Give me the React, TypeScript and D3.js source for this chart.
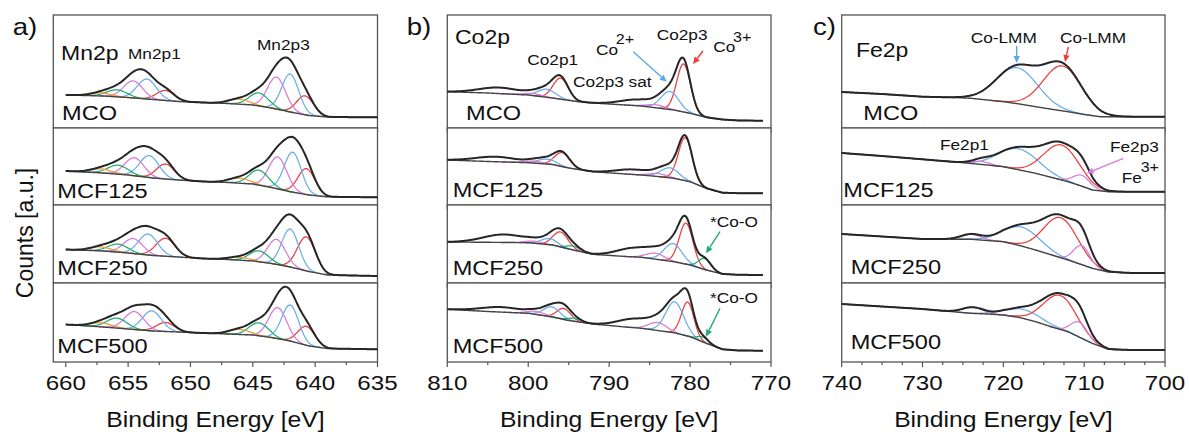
import React from "react";
import * as d3 from "d3";

// ---------------- data ----------------
const samples = ["MCO", "MCF125", "MCF250", "MCF500"];

const mnTicks = [660, 655, 650, 645, 640, 635];
const coTicks = [810, 800, 790, 780, 770];
const feTicks = [740, 730, 720, 710, 700];

// backgrounds: [binding energy, intensity]
const mnBg = [
  [[660, 33], [657, 32], [655, 30.5], [653, 28.5], [651, 26.5], [649, 25.5], [647, 24.5], [645, 23], [643.5, 20], [642, 16], [640.5, 12.5], [639, 11], [635, 10.7]],
  [[660, 34], [657, 32], [655, 30], [653, 27], [651, 25], [649, 23.5], [647, 22.5], [645, 21], [643.5, 17.5], [642, 13.3], [640.5, 10], [639, 8.2], [635, 7.7]],
  [[660, 33.5], [657, 32], [655, 30], [653, 27.5], [651, 26], [649, 24.5], [647, 23.5], [645, 22], [643.5, 19.5], [642, 16], [640.5, 11.5], [639, 8], [635, 7]],
  [[660, 37.5], [657, 35], [655, 33], [653, 31], [651, 30], [649, 29], [647, 28], [645, 27], [643.5, 24.5], [642, 21], [640.5, 16], [639, 13.5], [635, 12.7]],
];
// fitted components: [center eV, FWHM eV, amplitude, component]
const mnPeaks = [
  [[640.8, 1.6, 19, "a"], [642.0, 1.6, 38, "b"], [643.1, 1.7, 32, "c"], [644.5, 1.8, 13, "d"], [646.1, 2.0, 5, "e"], [652.0, 1.7, 10, "a"], [653.5, 1.8, 20, "b"], [654.6, 1.8, 17, "c"], [655.9, 1.9, 7, "d"], [657.2, 2.0, 3, "e"]],
  [[640.7, 1.6, 26, "a"], [641.8, 1.6, 40, "b"], [643.0, 1.7, 32, "c"], [644.5, 1.8, 15, "d"], [646.1, 2.0, 5, "e"], [652.0, 1.7, 15, "a"], [653.3, 1.8, 22, "b"], [654.5, 1.8, 18, "c"], [655.8, 1.9, 9, "d"], [657.2, 2.0, 4, "e"]],
  [[640.7, 1.7, 34, "a"], [642.0, 1.6, 38, "b"], [643.1, 1.7, 25, "c"], [644.5, 1.8, 11, "d"], [646.1, 2.0, 3, "e"], [652.0, 1.8, 18, "a"], [653.4, 1.8, 21, "b"], [654.6, 1.8, 15, "c"], [655.8, 1.9, 8, "d"], [657.2, 2.0, 4, "e"]],
  [[640.7, 1.6, 19, "a"], [642.0, 1.6, 36, "b"], [643.0, 1.7, 31, "c"], [644.5, 1.8, 13, "d"], [646.1, 2.0, 5, "e"], [652.0, 1.7, 9, "a"], [653.1, 1.8, 20, "b"], [654.5, 1.8, 18, "c"], [655.9, 1.9, 10, "d"], [657.2, 2.0, 4, "e"]],
];
const mnSat = [[], [], [], []];

const coBg = [
  [[810, 36.3], [805, 35], [800, 33], [797, 30], [794, 26.5], [792, 25], [788, 23], [786, 22], [784, 20], [782, 18], [780, 14.7], [778, 10.7], [776, 8.5], [774, 7.5], [771, 7.3]],
  [[810, 45], [805, 43.5], [800, 42.3], [797, 40.5], [795, 37], [792, 33.3], [788, 31], [786, 30], [784, 28.5], [782, 26.7], [780, 23.3], [778, 16.7], [776, 12.3], [774, 11.8], [771, 11.7]],
  [[810, 41], [805, 40.7], [800, 40.3], [797, 38], [795, 34], [792, 28.7], [788, 26.5], [786, 25.7], [784, 23.5], [782, 21.3], [780, 18], [778, 13], [776, 9], [774, 8.2], [771, 8]],
  [[810, 52.7], [805, 50.5], [800, 48.7], [797, 45], [795, 41.5], [792, 38], [788, 35], [786, 33.7], [784, 31.5], [782, 29.3], [780, 25.3], [778, 18.7], [776, 12.7], [774, 11.5], [771, 11.3]],
];
const coPeaks = [
  [[780.8, 2.0, 48, "a"], [782.5, 2.6, 18, "b"], [784.2, 2.5, 3, "c"], [796.0, 2.2, 21, "a"], [797.7, 2.6, 8, "b"], [799.4, 2.5, 2, "c"]],
  [[780.6, 2.0, 43, "a"], [782.5, 2.6, 10, "b"], [784.0, 2.5, 3, "c"], [795.8, 2.2, 14, "a"], [797.7, 2.6, 5, "b"], [799.3, 2.5, 2, "c"]],
  [[780.5, 2.0, 41, "a"], [782.1, 2.6, 18, "b"], [784.3, 2.6, 6, "c"], [778.2, 1.8, 11, "d"], [796.0, 2.2, 15, "a"], [797.4, 2.4, 6, "b"], [794.4, 2.0, 4, "d"], [799.3, 2.5, 2, "c"]],
  [[780.3, 1.8, 34, "a"], [781.9, 2.6, 31, "b"], [784.0, 2.6, 8, "c"], [778.4, 1.6, 5, "d"], [795.6, 2.0, 11, "a"], [797.1, 2.4, 10, "b"], [799.0, 2.5, 3, "c"], [794.3, 2.0, 3, "d"]],
];
// unfitted satellite structure: [center eV, FWHM eV, amplitude]
const coSat = [
  [[803.5, 6, 6], [786.5, 5, 6]],
  [[804, 6, 5], [787, 5, 5]],
  [[803, 6, 8], [786.8, 5, 9]],
  [[803.3, 6, 5], [786.7, 5, 9]],
];

const feBg = [
  [[740, 36], [735, 34], [730, 31.3], [726, 30.5], [724, 29.7], [722, 28], [720, 26.3], [718, 24], [716, 21.3], [714, 18.7], [712, 16.3], [710, 13.5], [708, 11.3], [704, 11.3], [700, 11.3]],
  [[740, 52], [735, 49], [730, 45.7], [725, 42.3], [722, 40], [720, 38.3], [718, 35], [716, 31.7], [714, 27.5], [712, 23.3], [710, 18], [709, 15], [707, 13.3], [700, 13.3]],
  [[740, 49], [735, 46.5], [730, 44], [724, 43.7], [722, 42.5], [720, 41.3], [718, 37.5], [716, 33], [714, 28], [712, 23], [710, 17.5], [709, 14.7], [707, 11], [704, 10], [700, 10]],
  [[740, 58], [735, 55.5], [730, 53], [724, 48.7], [722, 48], [720, 47], [718, 44.5], [716, 40.3], [714, 35], [712, 30.3], [710, 22.5], [709, 18.7], [707, 12.7], [704, 12], [700, 12]],
];
const fePeaks = [
  [[718.3, 6.0, 36, "b"], [712.7, 5.6, 45, "a"]],
  [[718.1, 5.8, 21, "b"], [712.8, 5.2, 35, "a"], [710.3, 2.5, 11, "c"], [722.8, 2.6, 3, "c"]],
  [[717.7, 5.4, 19, "b"], [712.9, 5.0, 40, "a"], [710.3, 2.4, 19, "c"], [724.0, 3.0, 5, "c"]],
  [[717.5, 5.2, 9, "b"], [713.0, 4.8, 34, "a"], [710.6, 2.4, 15, "c"], [723.8, 3.0, 6, "c"]],
];
const feSat = [[], [], [], []];

// ---------------- styles / layout ----------------
const FONT = "'Liberation Sans', Arial, Helvetica, sans-serif";
const SX = 1.15;
const compColor: Record<string, string> = {
  a: "#ec3d3d",
  b: "#68aee8",
  c: "#d67bd8",
  d: "#1fad73",
  e: "#e8a13a",
};
const rows = [
  [15, 128],
  [128, 205],
  [205, 283],
  [283, 362],
];

const panels = [
  { x0: 53.3, x1: 377.5, domain: [661, 635], lo: 635, hi: 660, ticks: mnTicks, minor: 2.5, bg: mnBg, peaks: mnPeaks, sat: mnSat },
  { x0: 447.3, x1: 771, domain: [810, 770], lo: 771, hi: 810, ticks: coTicks, minor: 5, bg: coBg, peaks: coPeaks, sat: coSat },
  { x0: 841.7, x1: 1165, domain: [740, 700], lo: 700, hi: 740, ticks: feTicks, minor: 2.5, bg: feBg, peaks: fePeaks, sat: feSat },
];

const gauss = (p: number[], e: number) => p[2] * Math.exp((-4 * Math.LN2 * (e - p[0]) ** 2) / (p[1] * p[1]));

function T({ x, y, size, anchor = "start", fill = "#111", children }: any) {
  return (
    <text transform={`translate(${x},${y}) scale(${SX},1)`} fontSize={size} textAnchor={anchor} fontFamily={FONT} fill={fill}>
      {children}
    </text>
  );
}

function Arrow({ x1, y1, x2, y2, color }: any) {
  const ang = Math.atan2(y2 - y1, x2 - x1);
  const L = 7, Wd = 3.2;
  const bx = x2 - L * Math.cos(ang), by = y2 - L * Math.sin(ang);
  const px = -Math.sin(ang) * Wd, py = Math.cos(ang) * Wd;
  return (
    <g>
      <line x1={x1} y1={y1} x2={bx} y2={by} stroke={color} strokeWidth={1.4} />
      <path d={`M${x2},${y2}L${bx + px},${by + py}L${bx - px},${by - py}Z`} fill={color} />
    </g>
  );
}

function Sub({ p, r, idx, last }: any) {
  const [top, bottom] = rows[r];
  const x = d3.scaleLinear().domain(p.domain).range([p.x0, p.x1]);
  const y = d3.scaleLinear().domain([0, bottom - top]).range([bottom, top]);
  const bgPts = p.bg[idx];
  const bg = d3.scaleLinear().domain(bgPts.map((d: number[]) => d[0])).range(bgPts.map((d: number[]) => d[1])).clamp(true);
  const peaks = p.peaks[idx];
  const sats = p.sat[idx];
  const total = (e: number) =>
    bg(e) + d3.sum(peaks, (pk: any) => gauss(pk, e)) + d3.sum(sats, (s: any) => gauss(s, e));
  const grid = d3.range(p.lo, p.hi + 0.001, 0.1);
  const bgPath = d3.line<number>().x((e) => x(e)).y((e) => y(bg(e))).curve(d3.curveBasis)(grid);
  const envPath = d3.line<number>().x((e) => x(e)).y((e) => y(total(e)))(grid);
  const comps = peaks.map((pk: any, i: number) => {
    const g = grid.filter((e: number) => Math.abs(e - pk[0]) <= 1.6 * pk[1]);
    const path = d3.line<number>().x((e) => x(e)).y((e) => y(bg(e) + gauss(pk, e)))(g);
    return <path key={i} d={path || ""} fill="none" stroke={compColor[pk[3]]} strokeWidth={1.25} />;
  });
  const minorTicks = d3.range(p.domain[1], p.domain[0] + 0.001, p.minor).filter((t: number) => x(t) >= p.x0 - 0.5 && x(t) <= p.x1 + 0.5);
  return (
    <g>
      <rect x={p.x0} y={top} width={p.x1 - p.x0} height={bottom - top} fill="white" stroke="#555" strokeWidth={1.3} />
      {comps}
      <path d={bgPath || ""} fill="none" stroke="#444" strokeWidth={1.4} />
      <path d={envPath || ""} fill="none" stroke="#262626" strokeWidth={2} />
      {minorTicks.map((t: number) => {
        const major = p.ticks.includes(t);
        return <line key={t} x1={x(t)} x2={x(t)} y1={bottom} y2={bottom + (major ? 5 : 3)} stroke="#555" strokeWidth={1.2} />;
      })}
      {last &&
        p.ticks.map((t: number) => (
          <T key={t} x={x(t)} y={390} size={21} anchor="middle">
            {t}
          </T>
        ))}
    </g>
  );
}

const sampleLabelPos = [
  [[62, 120], [57.3, 198], [57.3, 275], [57.3, 352.7]],
  [[466, 120], [452.7, 197], [452.7, 275], [452.7, 352.7]],
  [[863.3, 120], [843.3, 196.7], [850.7, 274], [850.7, 349.3]],
];

export default function App() {
  return (
    <svg width={1189} height={432} style={{ position: "absolute", left: 0, top: 0, background: "white" }}>
      <rect width={1189} height={432} fill="white" />
      {panels.map((p, pi) => (
        <g key={pi}>
          {rows.map((_, r) => (
            <Sub key={r} p={p} r={r} idx={r} last={r === 3} />
          ))}
          {samples.map((s, r) => (
            <T key={s} x={sampleLabelPos[pi][r][0]} y={sampleLabelPos[pi][r][1]} size={20.5}>
              {s}
            </T>
          ))}
          <T x={(p.x0 + p.x1) / 2} y={426.5} size={21.5} anchor="middle">
            Binding Energy [eV]
          </T>
        </g>
      ))}

      {/* panel letters */}
      <T x={12.7} y={35} size={24}>a)</T>
      <T x={406.7} y={35} size={24}>b)</T>
      <T x={813} y={35} size={24}>c)</T>

      <text transform="translate(33,233) rotate(-90)" fontSize={23} textAnchor="middle" fontFamily={FONT} fill="#111">
        Counts [a.u.]
      </text>

      {/* panel a annotations */}
      <T x={61} y={60} size={20}>Mn2p</T>
      <T x={128} y={59} size={15}>Mn2p1</T>
      <T x={257} y={50} size={15}>Mn2p3</T>

      {/* panel b annotations */}
      <T x={455} y={43.5} size={20}>Co2p</T>
      <T x={527.3} y={65} size={15}>Co2p1</T>
      <T x={573} y={86.5} size={15}>Co2p3 sat</T>
      <T x={596} y={55} size={15}>
        Co<tspan dx={-2} dy={-11} fontSize={14}>2+</tspan>
      </T>
      <T x={656.7} y={40} size={15}>Co2p3</T>
      <T x={713.3} y={52} size={15}>
        Co<tspan dx={-2} dy={-10.5} fontSize={14}>3+</tspan>
      </T>
      <Arrow x1={633.3} y1={51.7} x2={666.7} y2={81.7} color="#5aa8e8" />
      <Arrow x1={703} y1={51} x2={693} y2={64} color="#ec3d3d" />
      <T x={710} y={227.3} size={15}>*Co-O</T>
      <Arrow x1={720} y1={231.7} x2={706} y2={253.3} color="#1fad73" />
      <T x={710} y={302.7} size={15}>*Co-O</T>
      <Arrow x1={720} y1={308.3} x2={706} y2={336.7} color="#1fad73" />

      {/* panel c annotations */}
      <T x={856} y={56.7} size={20}>Fe2p</T>
      <T x={970.7} y={42.7} size={15}>Co-LMM</T>
      <T x={1060} y={42.7} size={15}>Co-LMM</T>
      <Arrow x1={1016.7} y1={46} x2={1016.7} y2={63} color="#5aa8e8" />
      <Arrow x1={1068.3} y1={47} x2={1065} y2={62} color="#ec3d3d" />
      <T x={940} y={150} size={15}>Fe2p1</T>
      <T x={1110} y={151.7} size={15}>Fe2p3</T>
      <T x={1121.7} y={182.7} size={15}>
        Fe<tspan dx={-1} dy={-11} fontSize={14}>3+</tspan>
      </T>
      <Arrow x1={1123.3} y1={158.3} x2={1086.7} y2={173.3} color="#d67bd8" />
    </svg>
  );
}
